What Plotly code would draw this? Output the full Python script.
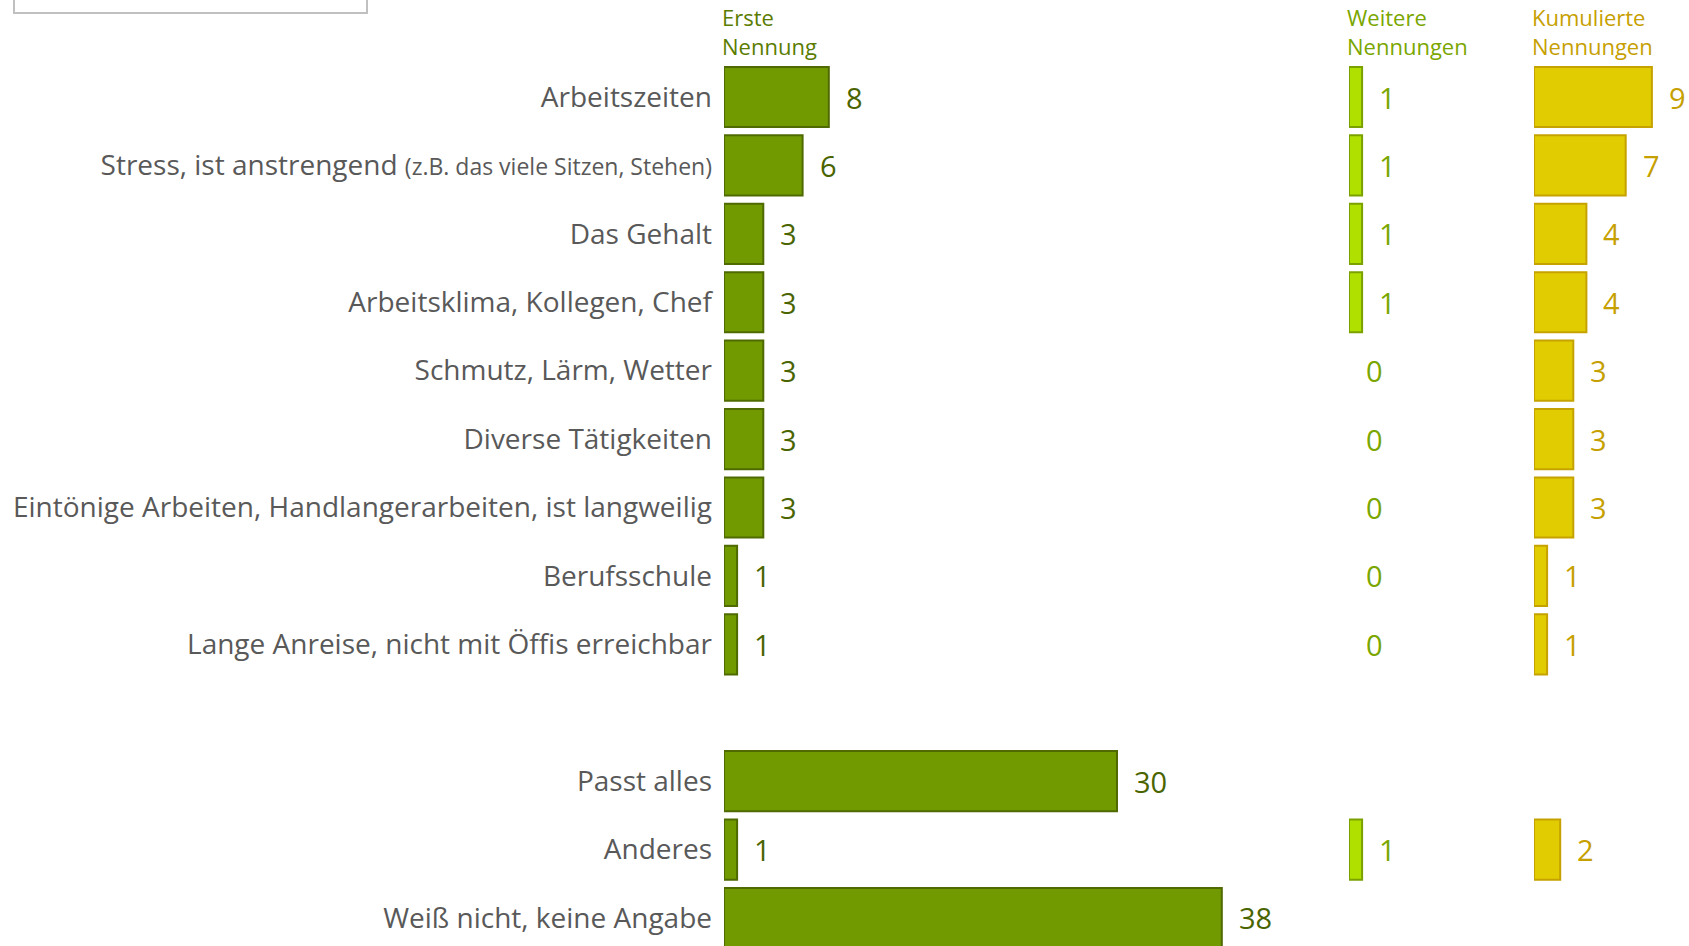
import plotly.graph_objects as go

categories = [
    "Arbeitszeiten",
    "Stress, ist anstrengend <span style=\"font-size:23px\">(z.B. das viele Sitzen, Stehen)</span>",
    "Das Gehalt",
    "Arbeitsklima, Kollegen, Chef",
    "Schmutz, Lärm, Wetter",
    "Diverse Tätigkeiten",
    "Eintönige Arbeiten, Handlangerarbeiten, ist langweilig",
    "Berufsschule",
    "Lange Anreise, nicht mit Öffis erreichbar",
    "Passt alles",
    "Anderes",
    "Weiß nicht, keine Angabe",
]
row_pos = [0, 1, 2, 3, 4, 5, 6, 7, 8, 10, 11, 12]

erste = [8, 6, 3, 3, 3, 3, 3, 1, 1, 30, 1, 38]
weitere = [1, 1, 1, 1, 0, 0, 0, 0, 0, None, 1, None]
kumuliert = [9, 7, 4, 4, 3, 3, 3, 1, 1, None, 2, None]

headers = ["Erste<br>Nennung", "Weitere<br>Nennungen", "Kumulierte<br>Nennungen"]

FONT = "Open Sans"
W, H = 1689, 946
PX_PER_UNIT = 13.1

fills = ["#719a00", "#b0e000", "#e0cc00"]
lines = ["#4e6a00", "#7ba100", "#c6a200"]
txtcol = ["#4a6400", "#7aa600", "#c6a000"]
hdrcol = ["#5a7c00", "#7aa600", "#c6a000"]

col_start = [724, 1349, 1534]
col_end = [1320, 1500, W]

fig = go.Figure()
series = [erste, weitere, kumuliert]
axes = ["x", "x2", "x3"]
for i, vals in enumerate(series):
    lw = [2 if v else 0 for v in vals]
    fig.add_trace(go.Bar(
        x=vals, y=row_pos, orientation="h",
        xaxis=axes[i], yaxis="y",
        width=0.88,
        marker=dict(color=fills[i], line=dict(color=lines[i], width=lw)),
        hoverinfo="skip", showlegend=False,
    ))
    for v, r in zip(vals, row_pos):
        if v is None:
            continue
        fig.add_annotation(
            x=v, y=r, xref=axes[i], yref="y",
            text=str(v), showarrow=False, xanchor="left", yanchor="middle",
            xshift=15, font=dict(family=FONT, size=29, color=txtcol[i]),
        )
    fig.add_annotation(
        x=0, xref=(axes[i] + " domain"), y=1, yref="paper",
        text=headers[i], showarrow=False, xanchor="left", yanchor="top",
        align="left", font=dict(family=FONT, size=22, color=hdrcol[i]),
        xshift=-4,
    )

layout_axes = {}
for i, ax in enumerate(["xaxis", "xaxis2", "xaxis3"]):
    rng = (col_end[i] - col_start[i]) / PX_PER_UNIT
    layout_axes[ax] = dict(
        domain=[col_start[i] / W, col_end[i] / W],
        range=[0, rng], visible=False, anchor="y",
        showgrid=False, zeroline=False,
    )

SP = 68.4
top_units = -97 / SP
bottom_units = 12 + (H - 918) / SP

fig.update_layout(
    width=W, height=H,
    margin=dict(l=0, r=0, t=0, b=0),
    paper_bgcolor="white", plot_bgcolor="white",
    yaxis=dict(
        range=[bottom_units, top_units],
        tickvals=row_pos, ticktext=categories,
        showgrid=False, zeroline=False, showline=False, ticks="",
        tickfont=dict(family=FONT, size=28, color="#595959"),
        anchor="x", ticklabelstandoff=11,
    ),
    **layout_axes,
)

fig.add_shape(type="rect", xref="paper", yref="paper",
              x0=14 / W, x1=367 / W, y0=1 - 13 / H, y1=1.05,
              line=dict(color="#c0c0c0", width=2), fillcolor="white")

fig.write_html(
    "out.html",
    config={"displayModeBar": False},
    post_script="document.body.style.margin='0';document.documentElement.style.overflow='hidden';",
)
